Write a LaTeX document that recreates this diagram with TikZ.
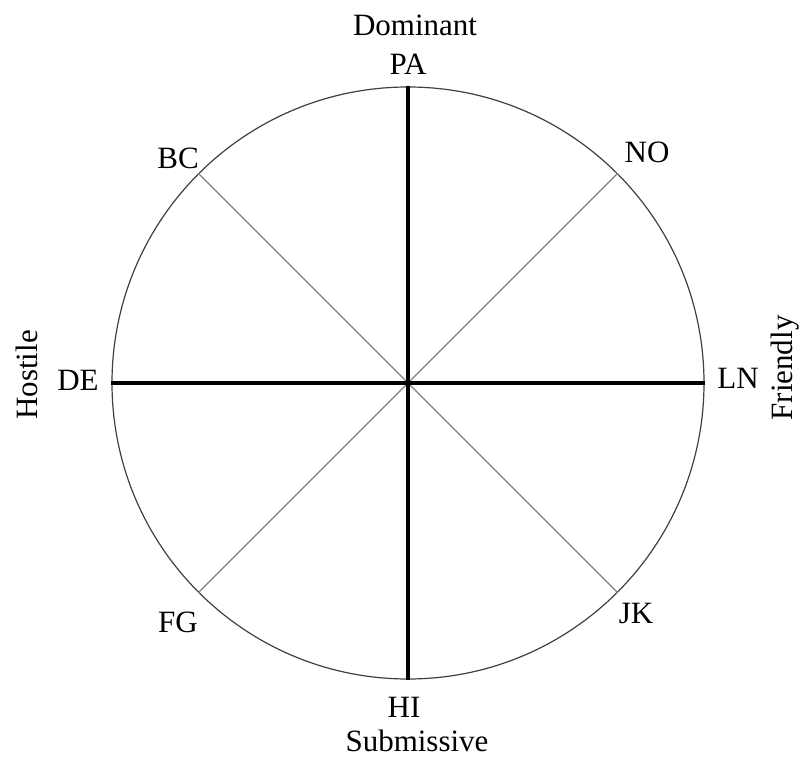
\documentclass[tikz,border=0pt]{standalone}
\usepackage{fontspec}
\setmainfont{Liberation Serif}
\usepackage{tikz}
\usetikzlibrary{positioning}

\begin{document}
\begin{tikzpicture}[
    x=0.5pt, y=-0.5pt,
    font=\fontsize{15.5}{18}\selectfont,
    wheel/.style={circle, draw=black!75, line width=0.6pt, minimum size=296pt, inner sep=0pt},
    axis/.style={line width=2.3pt, draw=black},
    spoke/.style={line width=0.6pt, draw=black!50},
    lab/.style={inner sep=1pt},
    pole/.style={inner sep=1pt},
  ]
  \useasboundingbox (0,0) rectangle (803,758);
  % circle
  \node[wheel] (w) at (408,383) {};
  % spokes
  \draw[spoke] (w.center) -- (w.45);
  \draw[spoke] (w.center) -- (w.135);
  \draw[spoke] (w.center) -- (w.225);
  \draw[spoke] (w.center) -- (w.315);
  \draw[axis] (w.center) -- (w.north);
  \draw[axis] (w.center) -- (w.south);
  \draw[axis] (w.center) -- (w.west);
  \draw[axis] (w.center) -- (w.east);
  % octant labels
  \node[lab] (pa) at (408,64)  {PA};
  \node[lab] (no) at (647,152) {NO};
  \node[lab] (ln) at (738,378) {LN};
  \node[lab] (jk) at (636,614) {JK};
  \node[lab] (hi) at (404,707) {HI};
  \node[lab] (fg) at (178,622) {FG};
  \node[lab] (de) at (78,380)  {DE};
  \node[lab] (bc) at (178,158) {BC};
  % axis names
  \node[pole] (dom) at (415,25)  {Dominant};
  \node[pole] (sub) at (417,741) {Submissive};
  \node[pole, rotate=90] (hos) at (27,375)  {Hostile};
  \node[pole, rotate=90] (fri) at (785,368) {Friendly};
\end{tikzpicture}
\end{document}
